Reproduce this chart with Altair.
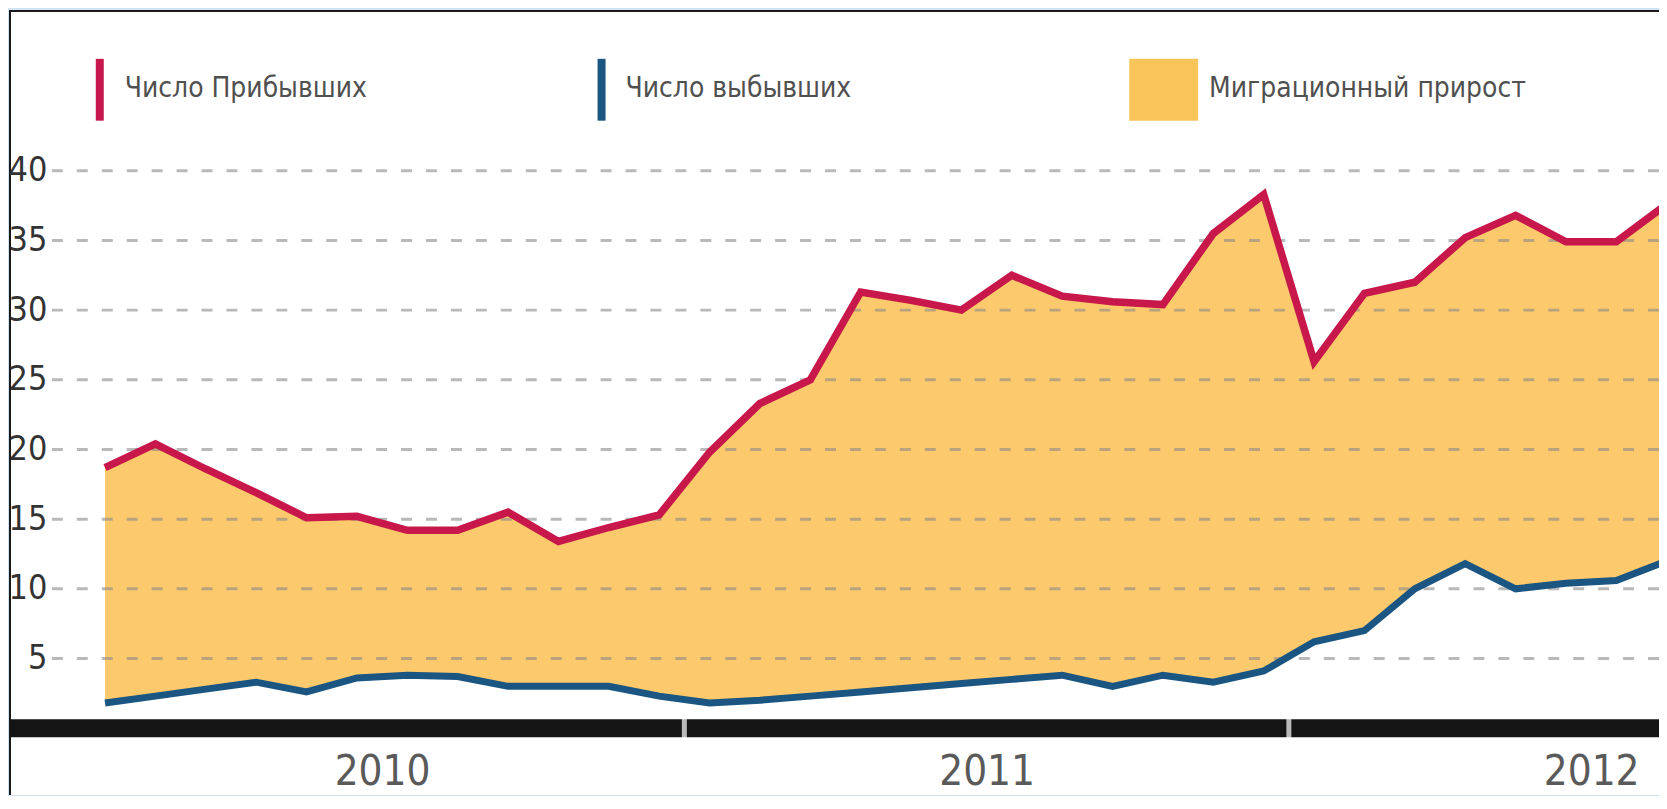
import altair as alt
import pandas as pd

# ---------------- data ----------------
months = ["2010-01", "2010-02", "2010-03", "2010-04", "2010-05", "2010-06",
          "2010-07", "2010-08", "2010-09", "2010-10", "2010-11", "2010-12",
          "2011-01", "2011-02", "2011-03", "2011-04", "2011-05", "2011-06",
          "2011-07", "2011-08", "2011-09", "2011-10", "2011-11", "2011-12",
          "2012-01", "2012-02", "2012-03", "2012-04", "2012-05", "2012-06",
          "2012-07", "2012-08"]
years = ["2010", "2011", "2012"]

arrivals = [18.7, 20.4, 18.6, 16.9, 15.1, 15.2, 14.2, 14.2, 15.5, 13.4, 14.4, 15.3,
            19.8, 23.3, 25.0, 31.3, 30.7, 30.0, 32.5, 31.0, 30.6, 30.4, 35.5, 38.3,
            26.3, 31.2, 32.0, 35.2, 36.8, 34.9, 34.9, 37.6]
departures = [1.8, 2.3, 2.8, 3.3, 2.6, 3.6, 3.8, 3.7, 3.0, 3.0, 3.0, 2.3,
              1.8, 2.0, 2.3, 2.6, 2.9, 3.2, 3.5, 3.8, 3.0, 3.8, 3.3, 4.1,
              6.2, 7.0, 10.0, 11.8, 10.0, 10.4, 10.6, 12.0]

y_ticks = [5, 10, 15, 20, 25, 30, 35, 40]
legend_labels = ["Число Прибывших", "Число выбывших", "Миграционный прирост"]

# ---------------- styles ----------------
RED = "#c8174a"
BLUE = "#1b5683"
ORANGE = "#fcc96c"
ORANGE_KEY = "#f9c558"
COND = "DejaVu Sans Condensed, Liberation Sans, sans-serif"

W, H = 1653, 786

# month position: month index + 0.5 (mid-month), years are 12 units wide
df = pd.DataFrame({
    "month": months,
    "t": [i + 0.5 for i in range(len(months))],
    "arrivals": arrivals,
    "departures": departures,
})
year_mid = [12 * i + 6 for i in range(len(years))]
year_bounds = [12 * i for i in range(1, len(years))]

x_scale = alt.Scale(domain=[-1.386, 31.347], nice=False, zero=False)
y_scale = alt.Scale(domain=[-4.8, 51.47], nice=False, zero=False)

year_list = ",".join(f"'{y}'" for y in years)
x_axis = alt.Axis(values=year_mid,
                  labelExpr=f"[{year_list}][floor(datum.value / 12)]",
                  title=None, grid=False, ticks=False, domain=False,
                  labelFont=COND, labelFontSize=42, labelColor="#5a5a5a",
                  labelBaseline="alphabetic", labelPadding=0, offset=-11,
                  labelFlush=False)
y_axis = alt.Axis(values=y_ticks, title=None, grid=False, ticks=False, domain=False,
                  labelFont=COND, labelFontSize=34, labelColor="#333333",
                  labelPadding=2, offset=-39, labelFlush=False)

X = lambda f: alt.X(f, scale=x_scale, axis=x_axis)
Y = lambda f: alt.Y(f, scale=y_scale, axis=y_axis)

base = alt.Chart(df)

area = base.mark_area(color=ORANGE, clip=True).encode(
    x=X("t:Q"), y=Y("arrivals:Q"), y2="departures:Q")

grid = alt.Chart(pd.DataFrame({"v": y_ticks})).mark_rule(
    color="#8a8a8a", strokeWidth=3, strokeDash=[11, 14], opacity=0.6
).encode(y=Y("v:Q"), x=alt.value(42), x2=alt.value(W))

zero_bar = alt.Chart(pd.DataFrame({"z": [0]})).mark_rule(
    color="#141414", strokeWidth=18
).encode(y=Y("z:Q"))

gaps = alt.Chart(pd.DataFrame({"b": year_bounds, "z": [0] * len(year_bounds)})).mark_tick(
    orient="vertical", color="white", thickness=5, size=26
).encode(x=X("b:Q"), y=Y("z:Q"))

red = base.mark_line(color=RED, strokeWidth=7.5, clip=True).encode(
    x=X("t:Q"), y=Y("arrivals:Q"))
blue = base.mark_line(color=BLUE, strokeWidth=7, clip=True).encode(
    x=X("t:Q"), y=Y("departures:Q"))

one = pd.DataFrame({"k": [0]})
TXT = dict(align="left", baseline="middle", font=COND, fontSize=28, color="#505050")
leg_red_key = alt.Chart(one).mark_rect(color=RED).encode(
    x=alt.value(86), x2=alt.value(94), y=alt.value(48), y2=alt.value(110))
leg_red_txt = alt.Chart(one).mark_text(text=legend_labels[0], **TXT).encode(
    x=alt.value(115), y=alt.value(78))
leg_blue_key = alt.Chart(one).mark_rect(color=BLUE).encode(
    x=alt.value(589), x2=alt.value(597), y=alt.value(48), y2=alt.value(110))
leg_blue_txt = alt.Chart(one).mark_text(text=legend_labels[1], **TXT).encode(
    x=alt.value(617), y=alt.value(78))
leg_or_key = alt.Chart(one).mark_rect(color=ORANGE_KEY).encode(
    x=alt.value(1122), x2=alt.value(1191), y=alt.value(48), y2=alt.value(110))
leg_or_txt = alt.Chart(one).mark_text(text=legend_labels[2], **TXT).encode(
    x=alt.value(1202), y=alt.value(78))

chart = alt.layer(
    area, grid, zero_bar, gaps, red, blue,
    leg_red_key, leg_red_txt, leg_blue_key, leg_blue_txt, leg_or_key, leg_or_txt
).properties(
    width=W, height=H,
    padding={"left": 2, "top": 2, "right": 0, "bottom": 0},
    autosize=alt.AutoSizeParams(type="none"),
    background="#cfe3f1",
).configure_view(
    fill="white", stroke="#1a1a1a", strokeWidth=2, strokeDash=[W, W + H, H]
)

chart.save("out.html", embed_options={"renderer": "svg", "actions": False})
